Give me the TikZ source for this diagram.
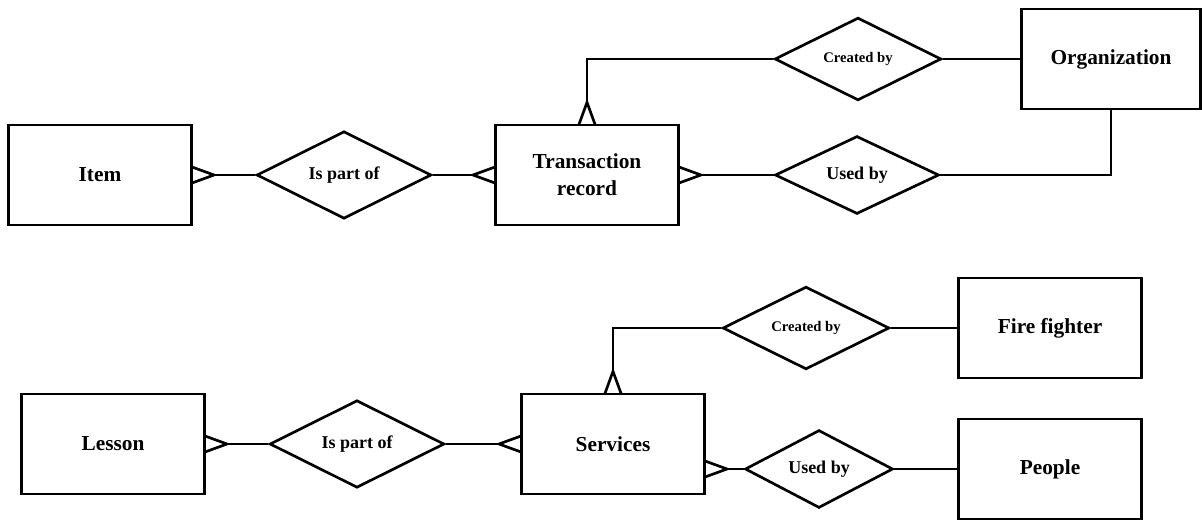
\documentclass[tikz,border=0pt]{standalone}
\usepackage{fontspec}
\setmainfont{Liberation Serif}
\usetikzlibrary{shapes.geometric,arrows.meta}

\tikzset{
  entity/.style={draw, line width=2pt, rectangle, minimum width=137pt, minimum height=75pt,
    align=center, font=\fontsize{16}{20}\selectfont\bfseries},
  rel/.style={draw, line width=2pt, diamond, inner sep=0pt, font=\fontsize{13.5}{16}\selectfont\bfseries},
  link/.style={draw, line width=2pt},
  crow/.style={link, shorten >=-1.5pt, -{Straight Barb[reversed, length=16.5pt, width=12pt, line width=2pt]}},
}

\begin{document}
\begin{tikzpicture}[x=0.75pt, y=-0.75pt]
    \useasboundingbox (0,0) rectangle (1202,521);
    % first diagram
    \node[entity] (item) at (100,175) {Item};
    \node[rel, minimum width=131pt, minimum height=55.5pt] (ipo1) at (344,175) {Is part of};
    \node[entity] (trans) at (587,175) {Transaction\\record};
    \node[rel, minimum width=125pt, minimum height=53pt, font=\fontsize{11}{13}\selectfont\bfseries] (cb1) at (858,59) {Created by};
    \node[rel, minimum width=123pt, minimum height=53pt] (ub1) at (857,175) {Used by};
    \node[entity, minimum width=134pt] (org) at (1111,59) {Organization};
		\draw[crow] (ipo1) -- (item);
		\draw[crow] (ipo1) -- (trans);
		\draw[crow] (ub1) -- (trans);
		\draw[crow] (cb1.west) -| (trans.north);
		\draw[link] (cb1) -- (org);
		\draw[link] (ub1.east) -| (org.south);
    % second diagram
    \node[entity] (lesson) at (113,444) {Lesson};
    \node[rel, minimum width=131pt, minimum height=55pt] (ipo2) at (357,444) {Is part of};
    \node[entity] (serv) at (613,444) {Services};
    \node[rel, minimum width=125pt, minimum height=52.5pt, font=\fontsize{11}{13}\selectfont\bfseries] (cb2) at (806,328) {Created by};
    \node[rel, minimum width=111pt, minimum height=46.5pt] (ub2) at (819,469) {Used by};
    \node[entity] (ff) at (1050,328) {Fire fighter};
    \node[entity] (people) at (1050,469) {People};
		\draw[crow] (ipo2) -- (lesson);
		\draw[crow] (ipo2) -- (serv);
		\draw[crow] (ub2.west) -- (ub2.west -| serv.east);
		\draw[crow] (cb2.west) -| (serv.north);
		\draw[link] (cb2) -- (ff);
		\draw[link] (ub2) -- (people);
\end{tikzpicture}
\end{document}
